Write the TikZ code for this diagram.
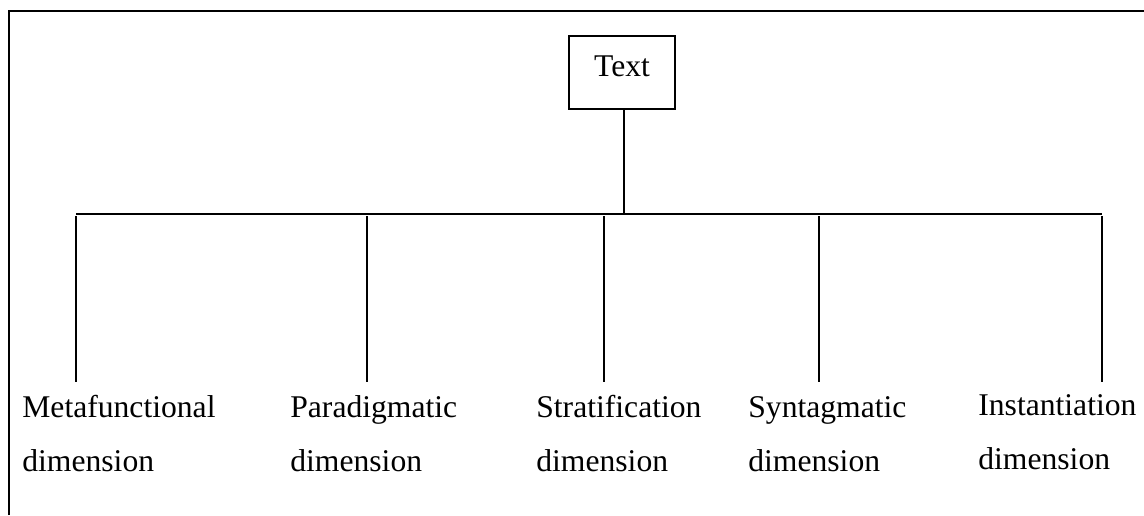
\documentclass[tikz,border=0pt]{standalone}
\usepackage{fontspec}
\setmainfont{Liberation Serif}
\begin{document}
\begin{tikzpicture}[x=0.02cm,y=-0.02cm,
    lbl/.style={anchor=base west,align=left,inner sep=0pt,font=\fontsize{18}{30.7}\selectfont},
    box/.style={draw,line width=0.6pt,inner sep=0pt,minimum width=106*0.02cm,
                text height=0.8cm,text depth=0.66cm,font=\fontsize{18}{22}\selectfont}]
  \useasboundingbox (0,0) rectangle (1144,515);
  % frame, cut off at the right and the bottom
  \draw[line width=1.3pt] (9,515) -- (9,11) -- (1144,11);
  \node[box,anchor=base] (txt) at (622,76) {Text};
  \coordinate (bar) at (624,214);
  \coordinate (barl) at (76,214);
  \coordinate (barr) at (1102,214);
  \foreach \n/\x in {1/76,2/367,3/604,4/819,5/1102} {
    \coordinate (top\n) at (\x,216);
    \coordinate (bot\n) at (\x,382);
  }
  \node[lbl] (meta) at (22,471) {Metafunctional\\dimension};
  \node[lbl] (para) at (290,471) {Paradigmatic\\dimension};
  \node[lbl] (strat) at (536,471) {Stratification\\dimension};
  \node[lbl] (syn) at (748,471) {Syntagmatic\\dimension};
  \node[lbl] (inst) at (978,469) {Instantiation\\dimension};
  \begin{scope}[line width=0.6pt]
    \draw (bar |- txt.south) -- (bar);
    \draw (barl) -- (barr);
    \foreach \n in {1,...,5}
      \draw (top\n) -- (bot\n);
  \end{scope}
\end{tikzpicture}
\end{document}
